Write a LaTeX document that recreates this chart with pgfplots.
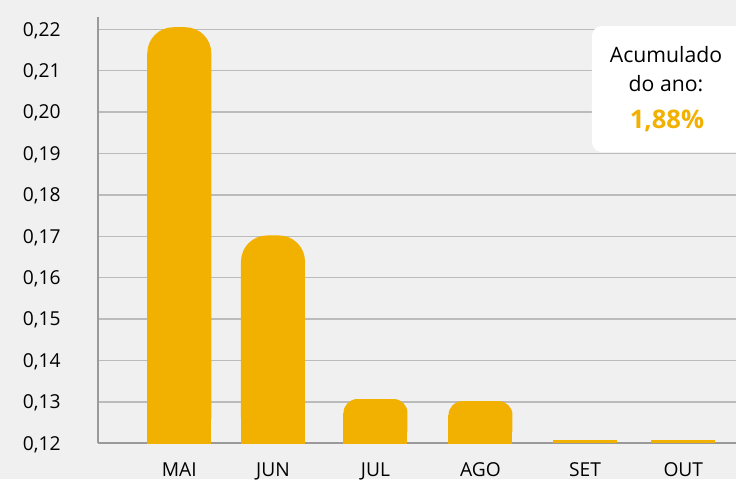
\documentclass[border=0pt]{standalone}
\usepackage{pgfplots}
\pgfplotsset{compat=1.18}
\usepackage{fontspec}
\setmainfont{Open Sans}
\definecolor{bg}{HTML}{F0F0F0}
\definecolor{bar}{HTML}{F2B100}
\definecolor{gridc}{HTML}{BBBBBB}
\definecolor{axc}{HTML}{9A9A9C}
\begin{document}
\begin{tikzpicture}
\useasboundingbox (0,0) rectangle (368pt,239.5pt);
\fill[bg] (0,0) rectangle (368pt,239.5pt);
\begin{axis}[
  at={(49pt,17.85pt)}, anchor=south west,
  scale only axis, width=319pt, height=213.15pt,
  xmin=98, xmax=736, ymin=0.12, ymax=0.22297,
  enlargelimits=false,
  axis x line=bottom, axis y line=left,
  axis line style={-, color=axc, line width=1pt},
  ymajorgrids, grid style={color=gridc, line width=0.75pt},
  major tick length=0pt,
  ytick={0.12,0.13,0.14,0.15,0.16,0.17,0.18,0.19,0.20,0.21,0.22},
  yticklabels={{0,12},{0,13},{0,14},{0,15},{0,16},{0,17},{0,18},{0,19},{0,20},{0,21},{0,22}},
  xtick={179.3,273,375.5,480.5,585,683.3},
  xticklabels={MAI,JUN,JUL,AGO,SET,OUT},
  tick label style={font=\fontsize{9.6pt}{11pt}\selectfont, inner sep=0pt},
  yticklabel style={anchor=base east, xshift=-18.5pt, yshift=-3.35pt},
  xticklabel style={anchor=base, yshift=-16.4pt},
  ybar, bar width=32pt,
]
% rounded tops
\addplot[fill=bar, draw=none, bar shift=0pt, rounded corners=13pt] coordinates {(179.3,0.2205)};
\addplot[fill=bar, draw=none, bar shift=0pt, rounded corners=13pt] coordinates {(273,0.1702)};
\addplot[fill=bar, draw=none, bar shift=0pt, rounded corners=7pt] coordinates {(375.5,0.1307)};
\addplot[fill=bar, draw=none, bar shift=0pt, rounded corners=7pt] coordinates {(480.5,0.1302)};
\addplot[fill=bar, draw=none, bar shift=0pt] coordinates {(585,0.1208)};
\addplot[fill=bar, draw=none, bar shift=0pt] coordinates {(683.3,0.1208)};
% square bodies (same values, shifted down) to keep the bottom square
\addplot[fill=bar, draw=none, bar shift=0pt, yshift=-13pt] coordinates {(179.3,0.2205)};
\addplot[fill=bar, draw=none, bar shift=0pt, yshift=-13pt] coordinates {(273,0.1702)};
\addplot[fill=bar, draw=none, bar shift=0pt, yshift=-7pt] coordinates {(375.5,0.1307)};
\addplot[fill=bar, draw=none, bar shift=0pt, yshift=-7pt] coordinates {(480.5,0.1302)};
\end{axis}
\fill[white, rounded corners=5pt] (296pt,163.5pt) rectangle (375pt,226.5pt);
\node[anchor=base, inner sep=0pt, font=\fontsize{10.6pt}{12pt}\selectfont] at (333pt,208.2pt) {Acumulado};
\node[anchor=base, inner sep=0pt, font=\fontsize{10.6pt}{12pt}\selectfont] at (333pt,193.7pt) {do ano:};
\node[anchor=base, inner sep=0pt, text=bar, font=\fontsize{12.8pt}{14pt}\selectfont\bfseries] at (333.5pt,175.5pt) {1,88\%};
\end{tikzpicture}
\end{document}
